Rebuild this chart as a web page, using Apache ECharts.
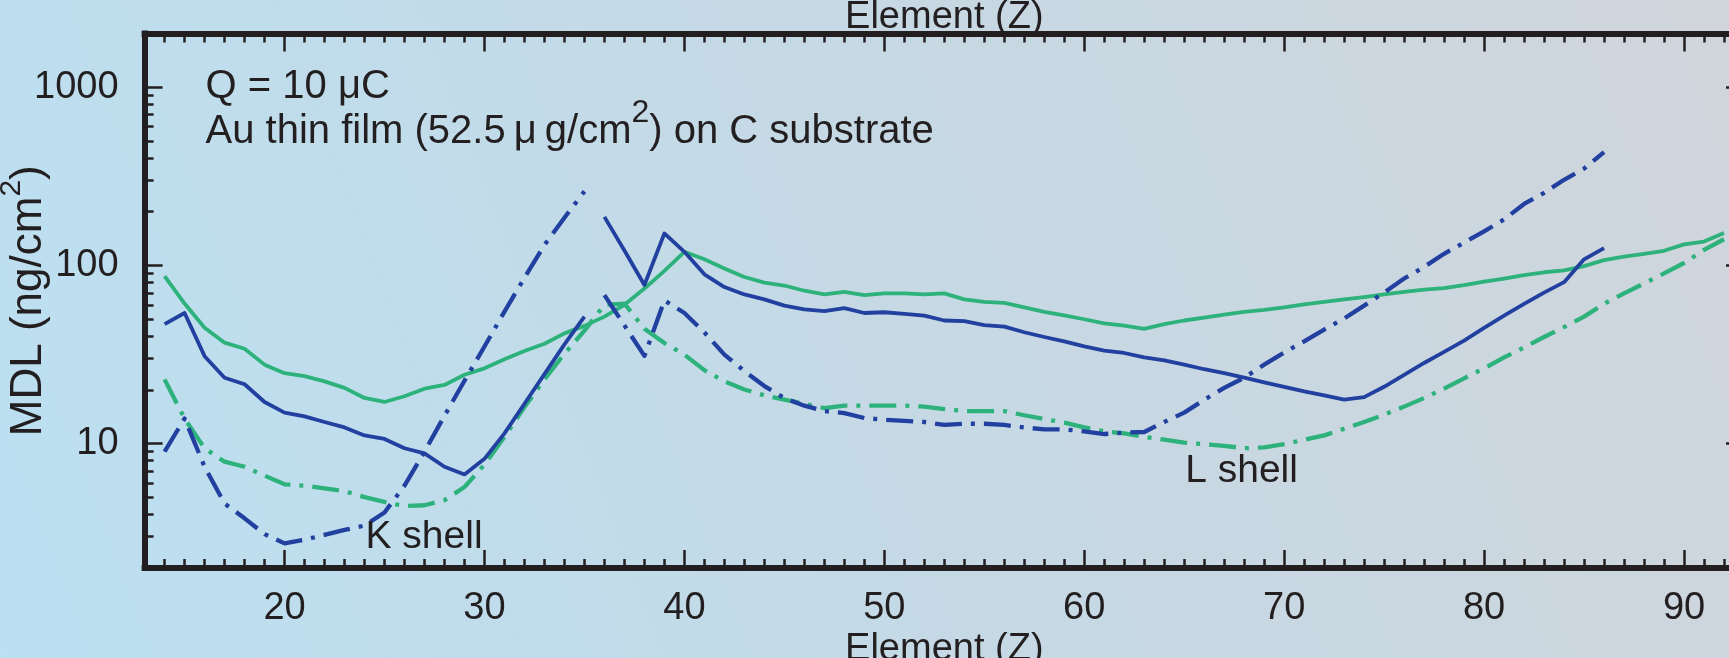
<!DOCTYPE html>
<html>
<head>
<meta charset="utf-8">
<script src="https://cdn.jsdelivr.net/npm/echarts@6/dist/echarts.min.js"></script>
<style>
  html, body { margin: 0; padding: 0; }
  #chart { width: 1729px; height: 658px; }
</style>
</head>
<body>
<div id="chart"></div>
<script>
const FONT = '"Liberation Sans", Arial, Helvetica, sans-serif';
const INK = '#231f20';
const BLUE = '#22409f';
const GREEN = '#2eb27b';
const DASH_DOT = [27, 9, 4, 9];

// Axis ranges: element number Z and minimum detection limit (ng/cm², log scale)
const zRange = [13, 93];
const mdlRange = [2, 2000];
const zMajorTicks = [20, 30, 40, 50, 60, 70, 80, 90];
const zMinorTicks = [14, 15, 16, 17, 18, 19, 21, 22, 23, 24, 25, 26, 27, 28, 29,
  31, 32, 33, 34, 35, 36, 37, 38, 39, 41, 42, 43, 44, 45, 46, 47, 48, 49,
  51, 52, 53, 54, 55, 56, 57, 58, 59, 61, 62, 63, 64, 65, 66, 67, 68, 69,
  71, 72, 73, 74, 75, 76, 77, 78, 79, 81, 82, 83, 84, 85, 86, 87, 88, 89, 91, 92];
const mdlMajorTicks = [10, 100, 1000];
const mdlMinorTicks = [3, 4, 5, 6, 7, 8, 9, 20, 30, 40, 50, 60, 70, 80, 90,
  200, 300, 400, 500, 600, 700, 800, 900];

// Green curves: Z = 14 ... 92
const greenFirstZ = 14;
const greenSolid = [87, 61, 44.6, 36.8, 34, 27.7, 24.8, 23.9, 22.3, 20.5,
  18, 17.1, 18.4, 20.3, 21.3, 24.3, 26.4, 29.7, 33, 36.3,
  41.5, 45.7, 51.5, 60, 74, 93, 119, 108, 96, 86,
  80, 77, 72, 68.6, 71, 68, 69.6, 69.6, 68.6, 69.6,
  64.4, 62.3, 61.6, 58, 54.8, 52.3, 49.8, 47.2, 45.8, 44,
  46.8, 49, 50.8, 52.8, 54.8, 56.2, 58, 60.3, 62.3, 64.4,
  66.3, 68.6, 71, 73, 74.4, 77.3, 81, 84.3, 88, 91.4,
  93.6, 99, 107, 112, 116, 120.6, 131, 136, 152];
const greenDash = [22.9, 13.8, 9.4, 7.9, 7.4, 6.6, 5.9, 5.8, 5.6, 5.4,
  5.0, 4.7, 4.45, 4.5, 4.8, 5.7, 7.6, 10.9, 16, 22.9,
  31.9, 43, 60, 61, 44, 36.6, 31.5, 25.8, 22.3, 20.1,
  18.6, 17.6, 16.7, 15.8, 16.3, 16.3, 16.3, 16.3, 16.1, 15.6,
  15.2, 15.2, 15.2, 14.4, 13.7, 13.1, 12.3, 11.7, 11.4, 10.9,
  10.5, 10.1, 9.9, 9.7, 9.4, 9.5, 9.9, 10.5, 11.1, 12.1,
  13.2, 14.5, 16.1, 18, 20.3, 23.2, 26.4, 30.4, 34.6, 39.6,
  45, 51.5, 60.8, 69.6, 79, 90, 103, 122, 140];

// Blue curves: K shell Z = 14 ... 35, L shell Z = 36 ... 86
const blueKFirstZ = 14;
const blueSolidK = [46.8, 54, 30.9, 23.4, 21.5, 17.1, 14.9, 14.2, 13.2, 12.3,
  11.1, 10.6, 9.4, 8.8, 7.4, 6.7, 8.2, 11.4, 16.7, 24.5, 36, 51.5];
const blueDashK = [9.0, 13.8, 7.4, 4.6, 3.8, 3.1, 2.75, 2.88, 3.07, 3.27,
  3.46, 4.1, 5.8, 9.0, 14.3, 22.5, 35, 55, 85, 130, 185, 260];
const blueLFirstZ = 36;
const blueSolidL = [187, 121, 77.5, 151, 119, 89, 75.5, 68.6, 64.4, 59.4,
  56.6, 55.3, 57.5, 54, 54.5, 53.4, 52.2, 49, 48.6, 46.1,
  45.3, 42.1, 39.6, 37.4, 35.1, 33.2, 32.2, 30.4, 29.3, 27.7,
  26.1, 24.8, 23.4, 22, 20.8, 19.6, 18.6, 17.6, 18.2, 20.8,
  24.3, 28.3, 32.7, 37.8, 44.6, 52.2, 60.8, 70.3, 80.4, 108, 125];
const blueDashL = [68, 46, 31, 63.5, 54, 42, 31.5, 25.5, 21, 18,
  16.3, 15.2, 14.8, 13.9, 13.6, 13.4, 13.2, 12.7, 12.9, 12.9,
  12.7, 12.3, 12.0, 12.0, 11.7, 11.3, 11.5, 11.6, 13.2, 14.9,
  17.6, 20.5, 23.4, 27.7, 32.4, 37.4, 43.6, 50.3, 59.4, 70.3,
  84.3, 98, 116, 134, 155, 181, 221, 255, 302, 349, 432];

// Text placed at data coordinates [Z, MDL]
const notes = [
  { text: 'Q = 10 μC', at: [16.05, 1000], size: 40 },
  { text: '{m|Au thin film (52.5\u2009μ\u2009g/cm}{s|2}{m|) on C substrate}', at: [16.05, 562], size: 40, rich: true },
  { text: 'K shell', at: [24.05, 2.96], size: 39 },
  { text: 'L shell', at: [65.05, 7.0], size: 39 }
];

function pairs(firstZ, values) {
  return values.map((v, i) => [firstZ + i, v]);
}

function lineSeries(name, data, color, dashed) {
  return {
    name, type: 'line', data,
    xAxisIndex: 0, yAxisIndex: 0,
    showSymbol: false, symbol: 'none', smooth: false, clip: true,
    lineStyle: { color, width: dashed ? 4.3 : 3.8, type: dashed ? DASH_DOT : 'solid', cap: 'butt', join: 'round' },
    emphasis: { disabled: true }, silent: true, z: 3
  };
}

const frameLine = { show: true, lineStyle: { color: INK, width: 6, cap: 'square' } };
const noLine = { show: false };
const tickStyle = { color: INK, width: 2.5 };
const plainNumber = v => String(v);

function xAxisDef(position, ticks, len, withFrame, label, name, nameGap) {
  return {
    type: 'value', position, min: zRange[0], max: zRange[1],
    axisLine: withFrame ? frameLine : noLine,
    axisTick: { show: true, inside: true, length: len, customValues: ticks, lineStyle: tickStyle },
    axisLabel: label
      ? { show: true, customValues: zMajorTicks, formatter: plainNumber, margin: 22, fontSize: 38, fontFamily: FONT, color: INK }
      : { show: false },
    splitLine: { show: false },
    name: name || '', nameLocation: 'middle', nameGap: nameGap || 0, nameMoveOverlap: false,
    nameTextStyle: { fontSize: 38, fontFamily: FONT, color: INK }
  };
}

function yAxisDef(position, ticks, len, withFrame, label, withName) {
  const ax = {
    type: 'log', logBase: 10, position, min: mdlRange[0], max: mdlRange[1],
    axisLine: withFrame ? frameLine : noLine,
    axisTick: { show: true, inside: true, length: len, customValues: ticks, lineStyle: tickStyle },
    axisLabel: label
      ? { show: true, customValues: mdlMajorTicks, formatter: plainNumber, margin: 26, fontSize: 38, fontFamily: FONT, color: INK }
      : { show: false },
    splitLine: { show: false }
  };
  if (withName) {
    ax.name = '{b|MDL (ng/cm}{s|2}{b|)}';
    ax.nameLocation = 'middle';
    ax.nameGap = 84;
    ax.nameMoveOverlap = false;
    ax.nameTextStyle = {
      fontFamily: FONT, color: INK, fontSize: 44,
      rich: {
        b: { fontSize: 44, verticalAlign: 'middle', fontFamily: FONT, color: INK },
        s: { fontSize: 30, verticalAlign: 'middle', padding: [0, 0, 34, 0], fontFamily: FONT, color: INK }
      }
    };
  }
  return ax;
}

const chart = echarts.init(document.getElementById('chart'), null, { renderer: 'canvas' });

chart.setOption({
  animation: false,
  backgroundColor: {
    type: 'linear', x: 0, y: 1, x2: 1, y2: 0,
    colorStops: [
      { offset: 0, color: '#bbe0f2' },
      { offset: 0.5, color: '#c5d9e5' },
      { offset: 1, color: '#d0d5db' }
    ]
  },
  grid: { left: 144.6, right: -15, top: 33.5, bottom: 90, outerBoundsMode: 'none' },
  xAxis: [
    xAxisDef('bottom', zMajorTicks, 18, true, true, 'Element (Z)', 63),
    xAxisDef('bottom', zMinorTicks, 9, false, false),
    xAxisDef('top', zMajorTicks, 18, true, false, 'Element (Z)', -3),
    xAxisDef('top', zMinorTicks, 9, false, false)
  ],
  yAxis: [
    yAxisDef('left', mdlMajorTicks, 18, true, true, true),
    yAxisDef('left', mdlMinorTicks, 9, false, false, false),
    yAxisDef('right', mdlMajorTicks, 18, true, false, false),
    yAxisDef('right', mdlMinorTicks, 9, false, false, false)
  ],
  series: [
    lineSeries('green solid', pairs(greenFirstZ, greenSolid), GREEN, false),
    lineSeries('green dash-dot', pairs(greenFirstZ, greenDash), GREEN, true),
    lineSeries('blue solid K', pairs(blueKFirstZ, blueSolidK), BLUE, false),
    lineSeries('blue solid L', pairs(blueLFirstZ, blueSolidL), BLUE, false),
    lineSeries('blue dash-dot K', pairs(blueKFirstZ, blueDashK), BLUE, true),
    lineSeries('blue dash-dot L', pairs(blueLFirstZ, blueDashL), BLUE, true)
  ]
});

// Annotation texts anchored to data coordinates
const graphics = notes.map(n => {
  const p = chart.convertToPixel({ xAxisIndex: 0, yAxisIndex: 0 }, n.at);
  const style = {
    text: n.text, x: p[0], y: p[1],
    fontSize: n.size, fontFamily: FONT, fill: INK,
    align: 'left', verticalAlign: 'middle',
    textAlign: 'left', textVerticalAlign: 'middle'
  };
  if (n.rich) {
    style.rich = {
      m: { fontSize: n.size, verticalAlign: 'middle', fontFamily: FONT, fill: INK },
      s: { fontSize: 32, verticalAlign: 'middle', padding: [0, 0, 38, 0], fontFamily: FONT, fill: INK }
    };
  }
  return { type: 'text', silent: true, z: 10, style };
});
chart.setOption({ graphic: graphics });
</script>
</body>
</html>
